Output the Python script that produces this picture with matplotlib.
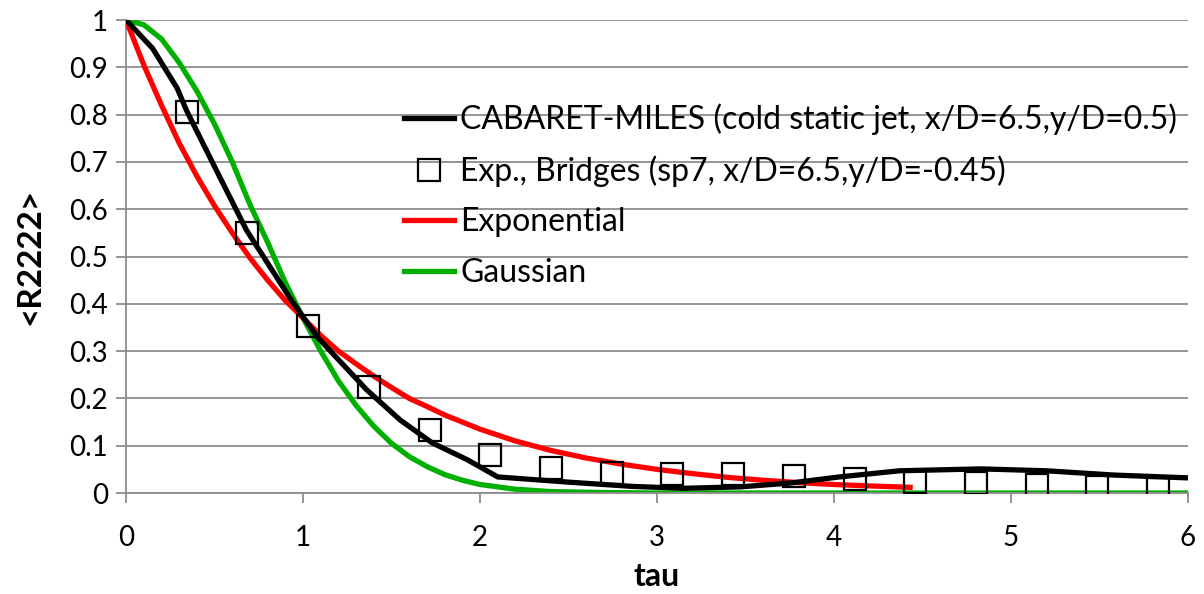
import matplotlib
matplotlib.use("Agg")
import matplotlib.pyplot as plt

plt.rcParams['font.family'] = ['Lato', 'DejaVu Sans']

# CABARET-MILES curve
tau_les = [0, 0.15, 0.29, 0.34, 0.5, 0.68, 0.93, 1.08, 1.36, 1.55, 1.73, 1.93, 2.1,
           2.5, 2.86, 3.15, 3.47, 3.75, 4.03, 4.37, 4.83, 5.2, 5.58, 6.0]
r_les = [1.0, 0.94, 0.855, 0.81, 0.69, 0.556, 0.41, 0.33, 0.218, 0.154, 0.106, 0.07, 0.034,
         0.023, 0.014, 0.01, 0.013, 0.021, 0.034, 0.047, 0.051, 0.047, 0.038, 0.032]

# experiment, Bridges
tau_exp = [0.343, 0.686, 1.029, 1.372, 1.715, 2.058, 2.401, 2.744, 3.087, 3.43, 3.773,
           4.116, 4.459, 4.802, 5.145, 5.488, 5.831]
r_exp = [0.806, 0.55, 0.353, 0.224, 0.133, 0.08, 0.053, 0.042, 0.04, 0.04, 0.036,
         0.03, 0.023, 0.021, 0.017, 0.013, 0.008]

# exponential fit
tau_ex = [0, 0.1, 0.2, 0.3, 0.4, 0.5, 0.6, 0.7, 0.8, 0.9, 1.0, 1.1, 1.2, 1.3, 1.4, 1.5,
          1.6, 1.7, 1.8, 1.9, 2.0, 2.2, 2.4, 2.6, 2.8, 3.0, 3.2, 3.4, 3.6, 3.8, 4.0, 4.2, 4.43]
r_ex = [1.0, 0.905, 0.82, 0.74, 0.67, 0.607, 0.55, 0.497, 0.45, 0.407, 0.37, 0.333, 0.30,
        0.273, 0.247, 0.223, 0.20, 0.183, 0.165, 0.15, 0.135, 0.11, 0.09,
        0.074, 0.061, 0.05, 0.041, 0.033, 0.027, 0.022, 0.018, 0.015, 0.012]

# gaussian fit
tau_g = [0, 0.1, 0.2, 0.3, 0.4, 0.5, 0.6, 0.7, 0.8, 0.9, 1.0, 1.1, 1.2, 1.3, 1.4, 1.5,
         1.6, 1.7, 1.8, 1.9, 2.0, 2.2, 2.4, 2.7, 3.0, 6.0]
r_g = [1.0, 0.99, 0.96, 0.91, 0.85, 0.78, 0.70, 0.61, 0.53, 0.445, 0.37, 0.30, 0.237,
       0.185, 0.141, 0.105, 0.077, 0.056, 0.039, 0.027, 0.018, 0.008, 0.003, 0.001, 0, 0]

fig = plt.figure(figsize=(12.04, 5.94), dpi=100)
ax = fig.add_axes([0.1047, 0.170, 0.8820, 0.7963])

ax.plot(tau_les, r_les, color='black', lw=3.8, label='CABARET-MILES (cold static jet, x/D=6.5,y/D=0.5)', zorder=4)
ax.plot(tau_exp, r_exp, ls='none', marker='s', ms=16, mfc='none', mec='black', mew=1.6,
        label='Exp., Bridges (sp7, x/D=6.5,y/D=-0.45)', zorder=5)
ax.plot(tau_ex, r_ex, color='#ff0000', lw=3.8, label='Exponential', zorder=3)
ax.plot(tau_g, r_g, color='#00b000', lw=3.8, label='Gaussian', zorder=2)

ax.set_xlim(0, 6)
ax.set_ylim(0, 1)
ax.set_xticks(range(7))
ax.set_yticks([i / 10 for i in range(11)])
ax.set_yticklabels(['0', '0.1', '0.2', '0.3', '0.4', '0.5', '0.6', '0.7', '0.8', '0.9', '1'])
ax.yaxis.grid(True, color='#8c8c8c', lw=1.3)
ax.set_axisbelow(True)
for s in ['top', 'right']:
    ax.spines[s].set_visible(False)
for s in ['left', 'bottom']:
    ax.spines[s].set_color('#8c8c8c')
    ax.spines[s].set_linewidth(1.3)
    ax.spines[s].set_clip_on(False)
ax.tick_params(axis='both', direction='out', length=7, width=1.3, color='#8c8c8c',
               labelsize=20, pad=6)
ax.tick_params(axis='x', pad=16)

ax.set_xlabel('tau', fontsize=23, fontweight='bold', labelpad=8)
ax.set_ylabel('<R2222>', fontsize=24, fontweight='bold', labelpad=18)

ax.legend(loc='upper left', bbox_to_anchor=(0.262, 0.824), frameon=False, fontsize=23,
          handlelength=1.55, handletextpad=0.2, labelspacing=0.64, borderaxespad=0,
          borderpad=0)

plt.savefig('out.png', dpi=100)
